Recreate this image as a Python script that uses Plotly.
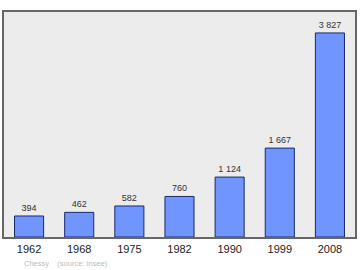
import plotly.graph_objects as go

years = ["1962", "1968", "1975", "1982", "1990", "1999", "2008"]
population = [394, 462, 582, 760, 1124, 1667, 3827]

fig = go.Figure(go.Bar(
    x=years, y=population,
    marker=dict(color="#7095ff", line=dict(color="#1a2a66", width=1)),
    texttemplate="%{y:,}", textposition="outside",
    textfont=dict(size=9, color="#333333", family="Liberation Sans, Arial, sans-serif"),
    cliponaxis=False, width=0.58,
))

fig.update_layout(
    width=360, height=270,
    margin=dict(l=4, r=5, t=12, b=33),
    paper_bgcolor="white", plot_bgcolor="#ececec",
    separators=". ",
    showlegend=False,
    font=dict(family="Liberation Sans, Arial, sans-serif"),
    xaxis=dict(showgrid=False, ticks="outside", ticklen=1, tickcolor="rgba(0,0,0,0)",
               tickfont=dict(size=11, color="#222222"),
               showline=True, mirror=True, linecolor="#666666", linewidth=1.5),
    yaxis=dict(range=[0, 4220], showgrid=False, showticklabels=False, zeroline=False,
               showline=True, mirror=True, linecolor="#666666", linewidth=1.5),
    annotations=[dict(text="Chessy&nbsp;&nbsp;&nbsp;&nbsp;(source: Insee)", xref="paper", yref="paper",
                      x=0.05, y=-0.118, xanchor="left", yanchor="middle", showarrow=False,
                      font=dict(size=7.5, color="#bbbbbb"))],
)

fig.write_html("out.html")
